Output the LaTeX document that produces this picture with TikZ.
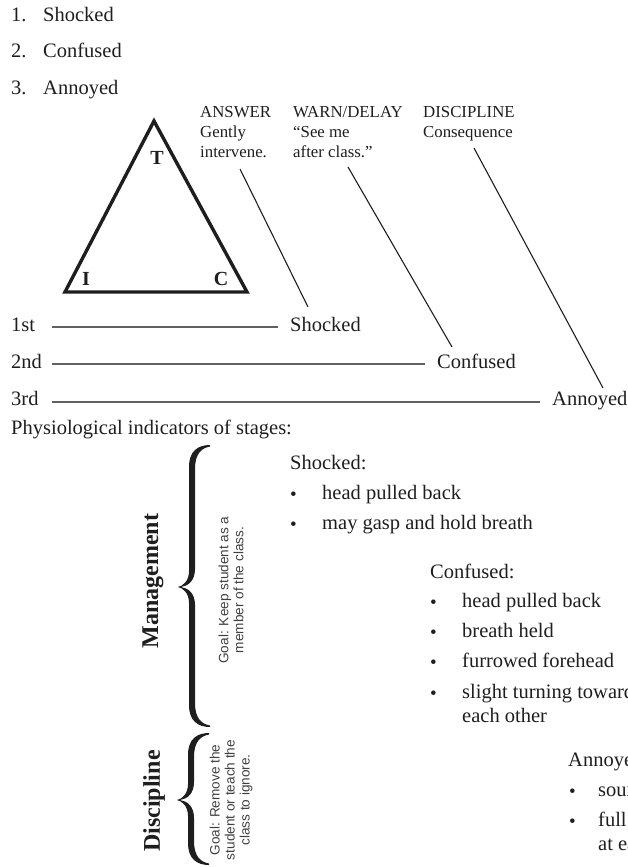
\documentclass[tikz,border=0pt]{standalone}
\usepackage{fontspec}
\setmainfont{Liberation Serif}
\newfontfamily\goalfont{Liberation Sans}
\definecolor{ink}{HTML}{1E1E1E}
\newcommand\bracefill[4]{% #1 x of tip, #2 y top, #3 y tip, #4 y bottom
  \fill[ink]
    ({#1+32},{#2}) .. controls ({#1+20},{#2}) and ({#1+11},{#2+6}) .. ({#1+11},{#2+22})
    -- ({#1+11},{#3-16}) .. controls ({#1+11},{#3-6}) and ({#1+5},{#3-1}) .. ({#1},{#3})
    .. controls ({#1+5},{#3+1}) and ({#1+11},{#3+6}) .. ({#1+11},{#3+16})
    -- ({#1+11},{#4-22}) .. controls ({#1+11},{#4-6}) and ({#1+20},{#4}) .. ({#1+32},{#4})
    -- ({#1+32},{#4-1.5}) .. controls ({#1+24},{#4-3}) and ({#1+17},{#4-8}) .. ({#1+17},{#4-24})
    -- ({#1+17},{#3+18}) .. controls ({#1+17},{#3+6}) and ({#1+10},{#3+1}) .. ({#1+3},{#3})
    .. controls ({#1+10},{#3-1}) and ({#1+17},{#3-6}) .. ({#1+17},{#3-18})
    -- ({#1+17},{#2+24}) .. controls ({#1+17},{#2+8}) and ({#1+24},{#2+3}) .. ({#1+32},{#2+1.5})
    -- cycle;}
\begin{document}
\begin{tikzpicture}[x=1pt,y=-1pt,
  main/.style={anchor=base west, inner sep=0pt, text=ink, font=\fontsize{20.5}{24}\selectfont},
  lab/.style={anchor=base west, inner sep=0pt, text=ink, font=\fontsize{16.8}{20}\selectfont},
  bul/.style={anchor=base west, inner sep=0pt, text=ink, font=\fontsize{19}{22}\selectfont},
  corner/.style={anchor=base, inner sep=0pt, text=ink, font=\bfseries\fontsize{20}{24}\selectfont},
  side/.style={rotate=90, inner sep=0pt, text=ink, font=\bfseries\fontsize{24}{28}\selectfont},
  goal/.style={rotate=90, inner sep=0pt, align=center, text=ink!85, font=\goalfont\fontsize{13.6}{15}\selectfont},
  rulel/.style={line width=1.5pt, draw=ink!70},
  lead/.style={line width=1.1pt, draw=ink},
  tri/.style={line width=3.4pt, draw=ink, line join=miter}]
\useasboundingbox (0,0) rectangle (628,867);

% numbered list
\node[main] (n1) at (11,22) {1.};
\node[main] (l1) at (43,22) {Shocked};
\node[main] (n2) at (11,58) {2.};
\node[main] (l2) at (43,58) {Confused};
\node[main] (n3) at (11,94) {3.};
\node[main] (l3) at (43,94) {Annoyed};

% triangle
\coordinate (tT) at (154,121);
\coordinate (tI) at (65,292);
\coordinate (tC) at (247,292);
\draw[tri] (tT) -- (tC) -- (tI) -- cycle;
\node[corner] (cT) at (157,164) {T};
\node[corner] (cI) at (86,285) {I};
\node[corner] (cC) at (221,285) {C};

% response labels
\node[lab] (ans1) at (200,117) {ANSWER};
\node[lab] (ans2) at (200,137) {Gently};
\node[lab] (ans3) at (200,157) {intervene.};
\node[lab] (wd1) at (293,117) {WARN/DELAY};
\node[lab] (wd2) at (293,137) {“See me};
\node[lab] (wd3) at (293,157) {after class.”};
\node[lab] (dc1) at (423,117) {DISCIPLINE};
\node[lab] (dc2) at (423,137) {Consequence};

% stage lines
\node[main] (s1) at (11,331) {1st};
\node[main] (s2) at (11,368) {2nd};
\node[main] (s3) at (11,405) {3rd};
\node[main] (shk) at (290,331) {Shocked};
\node[main] (cnf) at (437,368) {Confused};
\node[main] (ann) at (552,405) {Annoyed};
\coordinate (r1a) at (52,327); \coordinate (r1b) at (278,327);
\coordinate (r2a) at (52,364); \coordinate (r2b) at (425,364);
\coordinate (r3a) at (52,402); \coordinate (r3b) at (540,402);
\draw[rulel] (r1a) -- (r1b);
\draw[rulel] (r2a) -- (r2b);
\draw[rulel] (r3a) -- (r3b);

% leaders
\coordinate (a1) at (240,169); \coordinate (a2) at (308,307);
\coordinate (w1) at (348,167); \coordinate (w2) at (452,347);
\coordinate (d1) at (474,148); \coordinate (d2) at (603,388);
\draw[lead] (a1) -- (a2);
\draw[lead] (w1) -- (w2);
\draw[lead] (d1) -- (d2);

\node[main] (phys) at (11,434) {Physiological indicators of stages:};

% braces
\bracefill{178}{445}{587}{727}
\bracefill{177}{733}{800}{865}
\node[side] (mg) at (153,581) {Management};
\node[side] (dp) at (154,801) {Discipline};
\node[goal] (g1) at (231,590) {Goal: Keep student as a\\member of the class.};
\node[goal] (g2) at (231,800) {Goal: Remove the\\student or teach the\\class to ignore.};

% Shocked indicators
\node[main] (hs) at (290,469) {Shocked:};
\node[bul] (bs1) at (290,500) {•};
\node[main] (is1) at (322,499) {head pulled back};
\node[bul] (bs2) at (290,530) {•};
\node[main] (is2) at (322,529) {may gasp and hold breath};

% Confused indicators
\node[main] (hc) at (430,578) {Confused:};
\node[bul] (bc1) at (430,608) {•};
\node[main] (ic1) at (462,607) {head pulled back};
\node[bul] (bc2) at (430,638) {•};
\node[main] (ic2) at (462,637) {breath held};
\node[bul] (bc3) at (430,668) {•};
\node[main] (ic3) at (462,667) {furrowed forehead};
\node[bul] (bc4) at (430,699) {•};
\node[main] (ic4) at (462,698) {slight turning toward};
\node[main] (ic5) at (462,722) {each other};

% Annoyed indicators
\node[main] (ha) at (568,766) {Annoyed:};
\node[bul] (ba1) at (569,797) {•};
\node[main] (ia1) at (598,796) {sounds};
\node[bul] (ba2) at (569,827) {•};
\node[main] (ia2) at (598,826) {full};
\node[main] (ia3) at (598,850) {at each};
\end{tikzpicture}
\end{document}
